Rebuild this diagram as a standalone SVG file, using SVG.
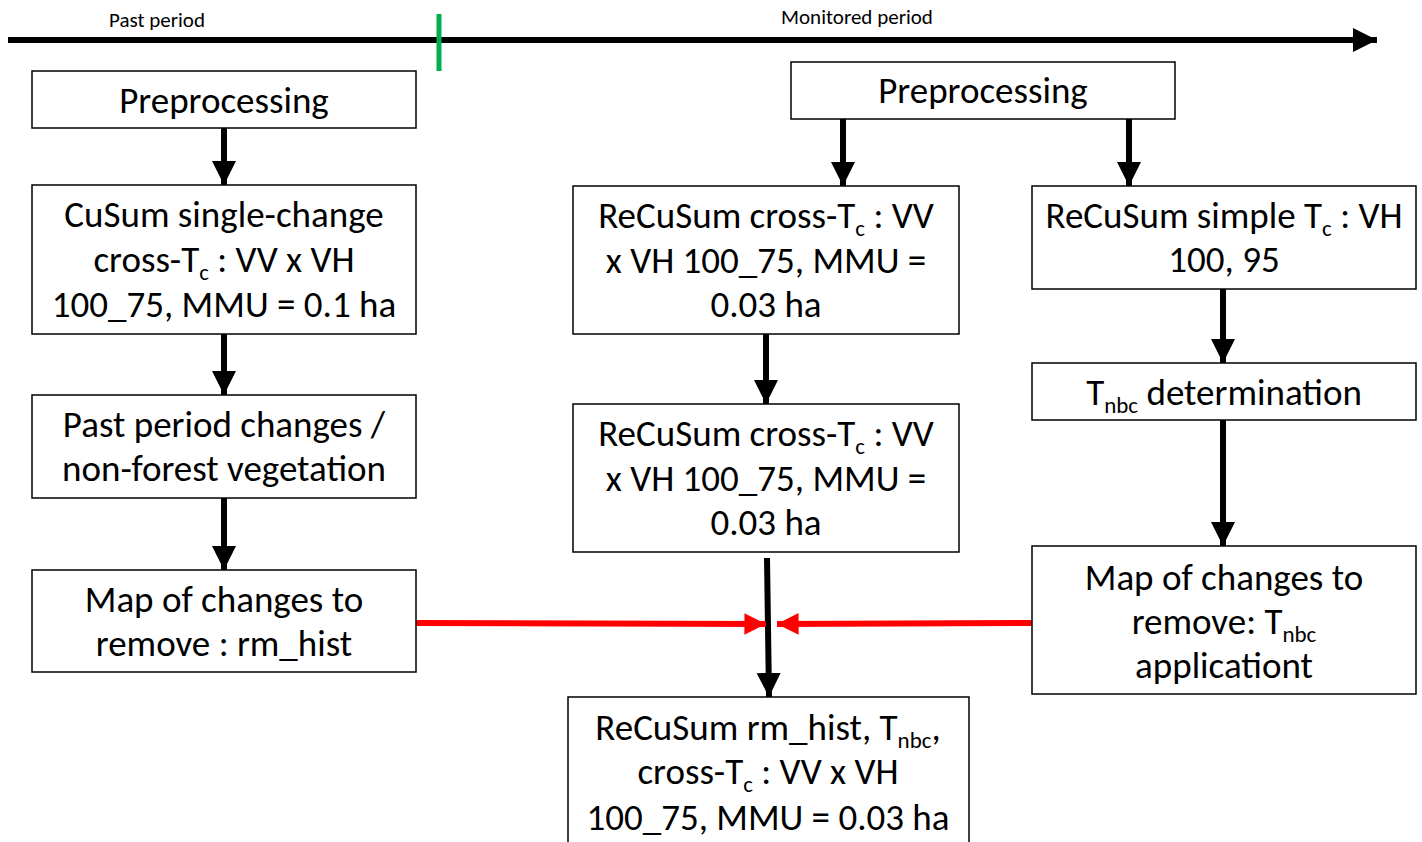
<svg xmlns="http://www.w3.org/2000/svg" width="1422" height="842" viewBox="0 0 1422 842">
<defs>
<style>
.box{fill:#fff;stroke:#000;stroke-width:1.5}
.t{font-family:Carlito,Lato,"Liberation Sans",sans-serif;font-size:37px;fill:#000;text-anchor:middle}
.s{font-family:Carlito,Lato,"Liberation Sans",sans-serif;font-size:21px;fill:#000;text-anchor:middle}
.sub{font-size:23px}
.k{stroke:#000;stroke-width:6;fill:none}
.r{stroke:#ff0000;stroke-width:6;fill:none}
</style>
<marker id="ak" viewBox="0 0 10 10" refX="10" refY="5" markerWidth="4" markerHeight="4.2" orient="auto" markerUnits="strokeWidth"><path d="M0,0L10,5L0,10z" fill="#000"/></marker>
<marker id="ar" viewBox="0 0 10 10" refX="10" refY="5" markerWidth="3.6" markerHeight="3.8" orient="auto" markerUnits="strokeWidth"><path d="M0,0L10,5L0,10z" fill="#ff0000"/></marker>
</defs>
<rect width="1422" height="842" fill="#fff"/>
<g id="timeline">
<line class="k" x1="8" y1="40" x2="1377" y2="40" marker-end="url(#ak)"/>
<line x1="439" y1="14" x2="439" y2="71" stroke="#00b050" stroke-width="5"/>
<text class="s" x="157" y="27">Past period</text>
<text class="s" x="857" y="24">Monitored period</text>
</g>
<g id="connectors">
<line class="k" x1="224" y1="128" x2="224" y2="185" marker-end="url(#ak)"/>
<line class="k" x1="224" y1="334" x2="224" y2="395" marker-end="url(#ak)"/>
<line class="k" x1="224" y1="498" x2="224" y2="570" marker-end="url(#ak)"/>
<line class="k" x1="843" y1="119" x2="843" y2="186" marker-end="url(#ak)"/>
<line class="k" x1="1129" y1="119" x2="1129" y2="186" marker-end="url(#ak)"/>
<line class="k" x1="766" y1="334" x2="766" y2="404" marker-end="url(#ak)"/>
<line class="k" x1="767" y1="558" x2="769" y2="697" marker-end="url(#ak)"/>
<line class="k" x1="1223" y1="289" x2="1223" y2="363" marker-end="url(#ak)"/>
<line class="k" x1="1223" y1="420" x2="1223" y2="546" marker-end="url(#ak)"/>
<line class="r" x1="416" y1="623" x2="766" y2="624" marker-end="url(#ar)"/>
<line class="r" x1="1032" y1="623" x2="777" y2="624" marker-end="url(#ar)"/>
</g>
<g id="pre1">
<rect class="box" x="32" y="71" width="384" height="57"/>
<text class="t" x="224" y="113">Preprocessing</text>
</g>
<g id="cusum">
<rect class="box" x="32" y="185" width="384" height="149"/>
<text class="t" x="224" y="227">CuSum single-change</text>
<text class="t" x="224" y="272">cross-T<tspan class="sub" dy="8">c</tspan><tspan dy="-8"> : VV x VH</tspan></text>
<text class="t" x="224" y="317">100_75, MMU = 0.1 ha</text>
</g>
<g id="past">
<rect class="box" x="32" y="395" width="384" height="103"/>
<text class="t" x="224" y="437">Past period changes /</text>
<text class="t" x="224" y="481">non-forest vegetation</text>
</g>
<g id="rmhist">
<rect class="box" x="32" y="570" width="384" height="102"/>
<text class="t" x="224" y="612">Map of changes to</text>
<text class="t" x="224" y="656">remove : rm_hist</text>
</g>
<g id="pre2">
<rect class="box" x="791" y="62" width="384" height="57"/>
<text class="t" x="983" y="103">Preprocessing</text>
</g>
<g id="recross1">
<rect class="box" x="573" y="186" width="386" height="148"/>
<text class="t" x="766" y="228">ReCuSum cross-T<tspan class="sub" dy="8">c</tspan><tspan dy="-8"> : VV</tspan></text>
<text class="t" x="766" y="273">x VH 100_75, MMU =</text>
<text class="t" x="766" y="317">0.03 ha</text>
</g>
<g id="recross2">
<rect class="box" x="573" y="404" width="386" height="148"/>
<text class="t" x="766" y="446">ReCuSum cross-T<tspan class="sub" dy="8">c</tspan><tspan dy="-8"> : VV</tspan></text>
<text class="t" x="766" y="491">x VH 100_75, MMU =</text>
<text class="t" x="766" y="535">0.03 ha</text>
</g>
<g id="final">
<rect class="box" x="568" y="697" width="401" height="160"/>
<text class="t" x="768" y="740">ReCuSum rm_hist, T<tspan class="sub" dy="8">nbc</tspan><tspan dy="-8">,</tspan></text>
<text class="t" x="768" y="784">cross-T<tspan class="sub" dy="8">c</tspan><tspan dy="-8"> : VV x VH</tspan></text>
<text class="t" x="768" y="830">100_75, MMU = 0.03 ha</text>
</g>
<g id="simple">
<rect class="box" x="1032" y="186" width="384" height="103"/>
<text class="t" x="1224" y="228">ReCuSum simple T<tspan class="sub" dy="8">c</tspan><tspan dy="-8"> : VH</tspan></text>
<text class="t" x="1224" y="272">100, 95</text>
</g>
<g id="tnbc">
<rect class="box" x="1032" y="363" width="384" height="57"/>
<text class="t" x="1224" y="405">T<tspan class="sub" dy="8">nbc</tspan><tspan dy="-8"> determination</tspan></text>
</g>
<g id="tnbcmap">
<rect class="box" x="1032" y="546" width="384" height="148"/>
<text class="t" x="1224" y="590">Map of changes to</text>
<text class="t" x="1224" y="634">remove: T<tspan class="sub" dy="8">nbc</tspan></text>
<text class="t" x="1224" y="678">applicationt</text>
</g>
</svg>
